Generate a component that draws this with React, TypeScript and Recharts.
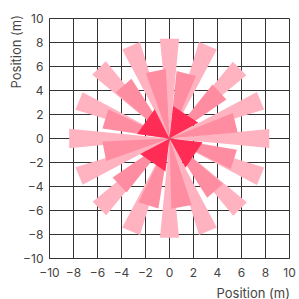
import { ScatterChart, Scatter, XAxis, YAxis, CartesianGrid } from "recharts";

// axis ticks (metres)
const axisTicks = [-10, -8, -6, -4, -2, 0, 2, 4, 6, 8, 10];

// outer ring: 16 thin petals
const outerAngles = [0, 22.5, 45, 67.5, 90, 112.5, 135, 157.5, 180, 202.5, 225, 247.5, 270, 292.5, 315, 337.5];
const outerLengths = [8.35, 8.25, 8.3, 8.4, 8.35, 8.4, 8.35, 8.2, 8.4, 8.2, 8.3, 8.4, 8.3, 8.4, 8.35, 8.25];
const outerSpread = 11;

// middle ring: 12 petals
const middleAngles = [13.5, 43, 75.5, 101.5, 131, 163, 191, 223, 252.5, 280, 311, 342];
const middleLengths = [5.7, 5.75, 5.65, 5.8, 5.9, 5.65, 5.6, 5.75, 5.9, 5.85, 5.85, 5.7];
const middleSpread = 17;

// inner ring: 4 wide petals
const innerAngles = [56, 144.5, 235.5, 326];
const innerLengths = [2.73, 2.73, 2.77, 2.78];
const innerSpread = 55;

const toPetals = (angles: number[], lengths: number[], spread: number) =>
  angles.flatMap((a, i) => {
    const r = lengths[i];
    const a1 = ((a - spread / 2) * Math.PI) / 180;
    const a2 = ((a + spread / 2) * Math.PI) / 180;
    return [
      { x: 0, y: 0 },
      { x: r * Math.cos(a1), y: r * Math.sin(a1) },
      { x: r * Math.cos(a2), y: r * Math.sin(a2) },
    ];
  });

// scatter "line" hook: gets the pixel points, draws one triangle per 3 points
const petalLine = (color: string) => (props: any) => {
  const pts = props.points || [];
  const polys = [];
  for (let i = 0; i + 2 < pts.length; i += 3) {
    const p = pts.slice(i, i + 3).map((q: any) => `${q.x},${q.y}`).join(" ");
    polys.push(<polygon key={i} points={p} fill={color} stroke="none" />);
  }
  return <g>{polys}</g>;
};

const noDot = () => <g />;

const fmt = (v: number) => (v < 0 ? `\u2212${Math.abs(v)}` : `${v}`);

const tickStyle = { fontSize: 12, fill: "#444", fontFamily: "Inter" };

export default function App() {
  // absolute so the page does not grow a scrollbar
  return (
    <div style={{ position: "absolute", top: 8, left: 8, width: 291, height: 291, fontFamily: "Inter" }}>
      <ScatterChart
        width={291}
        height={291}
        margin={{ top: 10.5, right: 9.5, bottom: 0, left: 0 }}
        style={{ overflow: "visible" }}
      >
        <CartesianGrid stroke="#333" strokeWidth={1} />
        <XAxis
          type="number"
          dataKey="x"
          domain={[-10, 10]}
          ticks={axisTicks}
          interval={0}
          allowDataOverflow
          height={40.5}
          tickSize={0}
          tickMargin={9.5}
          tickFormatter={fmt}
          tick={tickStyle}
          axisLine={{ stroke: "#333" }}
          tickLine={false}
          label={{
            content: ({ viewBox }: any) => (
              <text
                x={viewBox.x + viewBox.width + 0.5}
                y={viewBox.y + 39}
                textAnchor="end"
                fontSize={13}
                fill="#444"
                fontFamily="Inter"
              >
                Position (m)
              </text>
            ),
          }}
        />
        <YAxis
          type="number"
          dataKey="y"
          domain={[-10, 10]}
          ticks={axisTicks}
          interval={0}
          allowDataOverflow
          width={41.5}
          tickSize={0}
          tickMargin={6}
          tickFormatter={fmt}
          tick={tickStyle}
          axisLine={{ stroke: "#333" }}
          tickLine={false}
          label={{
            content: () => (
              <text
                x={12.5}
                y={7}
                transform="rotate(-90, 12.5, 7)"
                textAnchor="end"
                fontSize={13}
                fill="#444"
                fontFamily="Inter"
              >
                Position (m)
              </text>
            ),
          }}
        />
        <Scatter
          data={toPetals(outerAngles, outerLengths, outerSpread)}
          fill="#FFB3C1"
          line={petalLine("#FFB3C1")}
          shape={noDot}
          legendType="none"
          isAnimationActive={false}
        />
        <Scatter
          data={toPetals(middleAngles, middleLengths, middleSpread)}
          fill="#FF8DA2"
          line={petalLine("#FF8DA2")}
          shape={noDot}
          legendType="none"
          isAnimationActive={false}
        />
        <Scatter
          data={toPetals(innerAngles, innerLengths, innerSpread)}
          fill="#FF2D55"
          line={petalLine("#FF2D55")}
          shape={noDot}
          legendType="none"
          isAnimationActive={false}
        />
      </ScatterChart>
    </div>
  );
}
